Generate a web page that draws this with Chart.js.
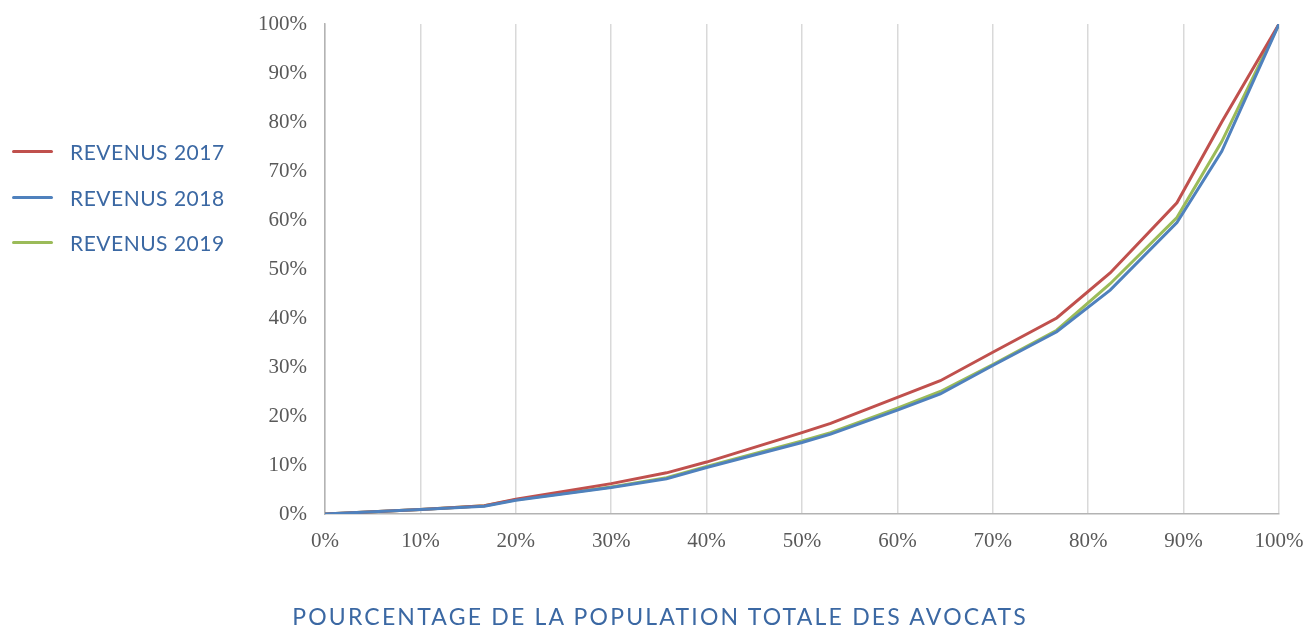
<!DOCTYPE html>
<html lang="fr">
<head>
<meta charset="utf-8">
<title>Courbe de Lorenz des revenus</title>
<script src="https://cdn.jsdelivr.net/npm/chart.js@4.4.1/dist/chart.umd.min.js"></script>
<style>
    html, body { margin: 0; padding: 0; background: #fff; }
    #wrap { position: relative; width: 1306px; height: 626px; }
    #graphique { position: absolute; left: 0; top: 0; }
    #legende { position: absolute; left: 12px; top: 129px; font-family: Lato, "Open Sans", sans-serif; }
    #legende div { height: 45.5px; display: flex; align-items: center; color: #3b68a3; font-size: 21px; letter-spacing: 0.5px; }
    #legende span.trait { display: inline-block; width: 41px; height: 3px; margin-right: 17px; border-radius: 2px; }
    #titre-x { position: absolute; left: 0; width: 1320px; top: 602px; text-align: center; font-family: Lato, "Open Sans", sans-serif; font-size: 23px; color: #3b68a3; letter-spacing: 2.2px; }
</style>
</head>
<body>
<div id="wrap">
    <canvas id="graphique" width="1306" height="626"></canvas>
    <div id="legende"></div>
    <div id="titre-x">POURCENTAGE DE LA POPULATION TOTALE DES AVOCATS</div>
</div>
<script>
// Part cumulée de la population (axe X, en %)
const population = [0, 10, 16.7, 20, 30, 35.8, 40, 50, 53, 60, 64.5, 70, 76.7, 82.3, 89.3, 94, 100];

// Part cumulée des revenus (axe Y, en %)
const revenus2017 = [0, 0.9, 1.7, 3.0, 6.2, 8.4, 10.6, 16.6, 18.5, 23.8, 27.2, 33, 40, 49.2, 63.5, 80, 100];
const revenus2018 = [0, 0.9, 1.6, 2.8, 5.4, 7.2, 9.5, 14.6, 16.3, 21.2, 24.5, 30.3, 37.2, 45.7, 59.5, 74, 100];
const revenus2019 = [0, 0.9, 1.7, 2.9, 5.5, 7.4, 9.7, 14.9, 16.6, 21.6, 25, 30.5, 37.5, 47, 60.5, 76, 100];

const series = ['REVENUS 2017', 'REVENUS 2018', 'REVENUS 2019'];
const couleurs = ['#c0504d', '#4f81bd', '#9bbb59'];

const ticksX = [0, 10, 20, 30, 40, 50, 60, 70, 80, 90, 100];

document.addEventListener('DOMContentLoaded', () => {
    const valeurs = [revenus2017, revenus2018, revenus2019];

    // Légende à gauche (HTML)
    const legende = document.getElementById('legende');
    series.forEach((nom, i) => {
        const div = document.createElement('div');
        div.innerHTML = '<span class="trait" style="background:' + couleurs[i] + '"></span>' + nom;
        legende.appendChild(div);
    });

    // ordre de dessin : bleu, rouge, vert au-dessus
    const ordre = [1, 0, 2];
    const datasets = ordre.map(i => ({
        label: series[i],
        data: population.map((x, j) => ({ x: x, y: valeurs[i][j] })),
        borderColor: couleurs[i],
        backgroundColor: couleurs[i],
        borderWidth: 3,
        pointRadius: 0,
        tension: 0,
        fill: false
    }));

    const police = { family: '"Liberation Serif", "DejaVu Serif", serif', size: 21 };

    const ctx = document.getElementById('graphique').getContext('2d');
    new Chart(ctx, {
        type: 'line',
        data: { datasets: datasets },
        options: {
            responsive: false,
            animation: false,
            layout: { padding: { top: 24, right: 27, left: 0, bottom: 0 } },
            plugins: {
                legend: { display: false },
                tooltip: { enabled: false }
            },
            scales: {
                x: {
                    type: 'linear',
                    min: 0,
                    max: 100,
                    afterBuildTicks: scale => { scale.ticks = ticksX.map(v => ({ value: v })); },
                    afterFit: scale => {
                        scale.height = 112;
                        scale.paddingLeft = 0;
                        scale.paddingRight = 0;
                    },
                    grid: { color: '#d9d9d9', lineWidth: 1.5, drawTicks: false },
                    border: { color: '#b3b3b3', width: 1.5 },
                    ticks: {
                        padding: 15,
                        color: '#595959',
                        font: police,
                        callback: v => v + '%'
                    }
                },
                y: {
                    min: 0,
                    max: 100,
                    afterFit: scale => {
                        scale.width = 325;
                        scale.paddingTop = 0;
                        scale.paddingBottom = 0;
                    },
                    grid: { display: false, drawTicks: false },
                    border: { color: '#b3b3b3', width: 1.5 },
                    ticks: {
                        stepSize: 10,
                        padding: 18,
                        color: '#595959',
                        font: police,
                        callback: v => v + '%'
                    }
                }
            }
        }
    });
});
</script>
</body>
</html>
